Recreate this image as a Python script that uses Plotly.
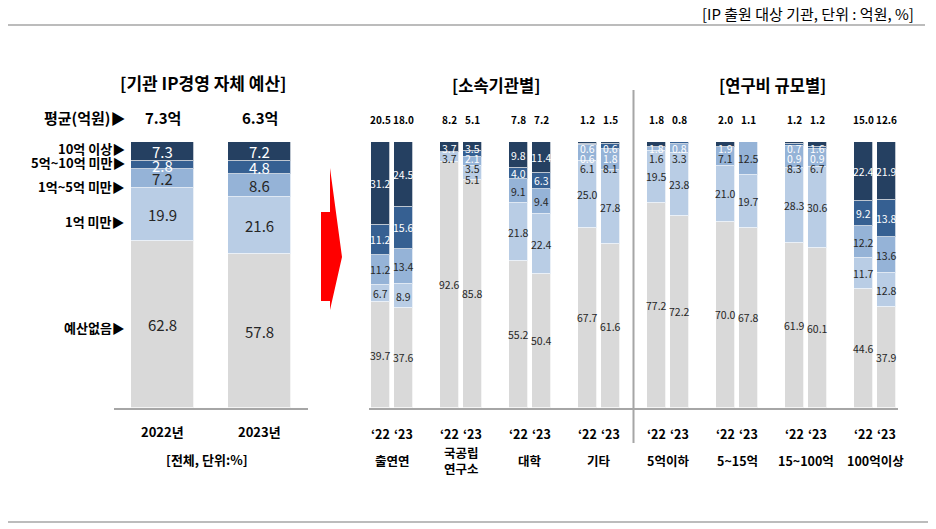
import plotly.graph_objects as go

W, H = 936, 529
def px(x): return x / W
def py(y): return 1 - y / H

FONT = "Noto Sans CJK KR"

# ---------------- data ----------------
series_names = ["예산없음", "1억 미만", "1억~5억 미만", "5억~10억 미만", "10억 이상"]
colors = ["#d9d9d9", "#b9cde5", "#95b3d7", "#366092", "#254061"]
text_colors = ["#262626", "#262626", "#262626", "#ffffff", "#ffffff"]

# left panel (전체)
total_years = ["2022년", "2023년"]
total_avg = ["7.3억", "6.3억"]
total_none = [62.8, 57.8]
total_lt1 = [19.9, 21.6]
total_1to5 = [7.2, 8.6]
total_5to10 = [2.8, 4.8]
total_ge10 = [7.3, 7.2]
total_series = [total_none, total_lt1, total_1to5, total_5to10, total_ge10]

# middle / right panels
group_names = ["출연연", "국공립<br>연구소", "대학", "기타",
               "5억이하", "5~15억", "15~100억", "100억이상"]
year_ticks = ["‘22", "‘23"]
grp_none = [39.7, 37.6, 92.6, 85.8, 55.2, 50.4, 67.7, 61.6,
            77.2, 72.2, 70.0, 67.8, 61.9, 60.1, 44.6, 37.9]
grp_lt1 = [6.7, 8.9, 3.7, 5.1, 21.8, 22.4, 25.0, 27.8,
           19.5, 23.8, 21.0, 19.7, 28.3, 30.6, 11.7, 12.8]
grp_1to5 = [11.2, 13.4, 0, 3.5, 9.1, 9.4, 6.1, 8.1,
            1.6, 3.3, 7.1, 12.5, 8.3, 6.7, 12.2, 13.6]
grp_5to10 = [11.2, 15.6, 0, 2.1, 4.0, 6.3, 0.6, 1.8,
             0, 0.8, 0, 0, 0.9, 0.9, 9.2, 13.8]
grp_ge10 = [31.2, 24.5, 3.7, 3.5, 9.8, 11.4, 0.6, 0.6,
            1.8, 0, 1.9, 0, 0.7, 1.6, 22.4, 21.9]
grp_series = [grp_none, grp_lt1, grp_1to5, grp_5to10, grp_ge10]
grp_avg = [20.5, 18.0, 8.2, 5.1, 7.8, 7.2, 1.2, 1.5,
           1.8, 0.8, 2.0, 1.1, 1.2, 1.2, 15.0, 12.6]

# ---------------- figure ----------------
fig = go.Figure()

left_x = list(range(len(total_years)))
for name, vals, col in zip(series_names, total_series, colors):
    fig.add_trace(go.Bar(
        x=left_x, y=vals, name=name, marker_color=col,
        marker_line=dict(color="rgba(255,255,255,0.7)", width=1),
        width=0.64, xaxis="x", yaxis="y",
        showlegend=False, hoverinfo="skip"))

grp_x = [3 * g + j for g in range(len(group_names)) for j in range(2)]
for name, vals, col in zip(series_names, grp_series, colors):
    fig.add_trace(go.Bar(
        x=grp_x, y=vals, name=name, marker_color=col,
        marker_line=dict(color="rgba(255,255,255,0.7)", width=1),
        width=0.83, xaxis="x2", yaxis="y2",
        showlegend=False, hoverinfo="skip"))

ydom = [py(408), py(142)]
axis_line = dict(showline=True, linecolor="#a6a6a6", linewidth=1.5,
                 showgrid=False, zeroline=False, showticklabels=False, ticks="")
fig.update_layout(
    width=W, height=H, margin=dict(l=0, r=0, t=0, b=0),
    paper_bgcolor="white", plot_bgcolor="white",
    barmode="stack", bargap=0,
    font=dict(family=FONT, color="#000000"),
    xaxis=dict(domain=[px(114), px(308)], range=[-0.5, 1.5], anchor="y", **axis_line),
    yaxis=dict(domain=ydom, range=[0, 100], visible=False, anchor="x"),
    xaxis2=dict(domain=[px(369), px(898)], range=[-0.5, 22.5], anchor="y2", **axis_line),
    yaxis2=dict(domain=ydom, range=[0, 100], visible=False, anchor="x2"),
)

ann = []
def A(text, x, y, xref="paper", size=12, bold=True, xanchor="center", color="#000000"):
    ann.append(dict(text=f"<b>{text}</b>" if bold else text, x=x, y=y, xref=xref,
                    yref="paper", showarrow=False, xanchor=xanchor, yanchor="middle",
                    font=dict(family=FONT, size=size, color=color)))

# value labels inside the stacked segments (placed from the top down so that
# labels of very thin segments do not sit on top of each other)
def seg_labels(xs, series, xref, yref, size, gap, top_pad):
    for b, xv in enumerate(xs):
        cum = 0
        segs = []
        for s, vals in enumerate(series):
            v = vals[b]
            segs.append((cum + v / 2, v, s))
            cum += v
        limit = 100 - top_pad
        for c, v, s in reversed(segs):
            if v <= 0:
                continue
            pos = min(c, limit)
            limit = pos - gap
            ann.append(dict(text=f"{v:.1f}", x=xv, y=pos, xref=xref, yref=yref,
                            showarrow=False, xanchor="center", yanchor="middle",
                            font=dict(family=FONT, size=size, color=text_colors[s])))

seg_labels(left_x, total_series, "x", "y", 15, 4.0, 3.0)
seg_labels(grp_x, grp_series, "x2", "y2", 10.5, 3.9, 2.3)

# header
A("[IP 출원 대상 기관, 단위 : 억원, %]", px(916), py(13), size=15, bold=False, xanchor="right")

# left panel texts
A("[기관 IP경영 자체 예산]", px(203), py(83), size=17)
A("평균(억원)▶", px(128), py(117), size=15, xanchor="right")
for i, t in enumerate(total_avg):
    A(t, left_x[i], py(117), xref="x", size=15)
row_label_y = [327, 221, 186, 162, 148]
for name, yy in zip(series_names, row_label_y):
    A(f"{name}▶", px(127), py(yy), size=13, xanchor="right")
for i, t in enumerate(total_years):
    A(t, left_x[i], py(431), xref="x", size=13)
A("[전체, 단위:%]", px(207), py(459), size=13)

# middle / right panel texts
A("[소속기관별]", px(496), py(85), size=16.5)
A("[연구비 규모별]", px(772), py(85), size=16.5)
for xv, v in zip(grp_x, grp_avg):
    A(f"{v:.1f}", xv, py(120), xref="x2", size=10)
for k, xv in enumerate(grp_x):
    A(year_ticks[k % 2], xv, py(433), xref="x2", size=12.5)
for g, name in enumerate(group_names):
    A(name, 3 * g + 0.5, py(460), xref="x2", size=12.5)

fig.update_layout(annotations=ann)

# shapes
shapes = [
    dict(type="line", xref="paper", yref="paper", x0=px(8), x1=px(925),
         y0=py(25), y1=py(25), line=dict(color="#a6a6a6", width=1.5)),
    dict(type="line", xref="paper", yref="paper", x0=px(8), x1=px(928),
         y0=py(522), y1=py(522), line=dict(color="#a6a6a6", width=1.5)),
    dict(type="line", xref="x2", yref="paper", x0=11, x1=11,
         y0=py(90), y1=py(443), line=dict(color="#a6a6a6", width=2)),
    dict(type="path", xref="paper", yref="paper",
         path=(f"M {px(330)},{py(168)} L {px(342)},{py(257)} L {px(330)},{py(310)} "
               f"L {px(330)},{py(301)} L {px(321)},{py(301)} L {px(321)},{py(212)} "
               f"L {px(330)},{py(212)} Z"),
         fillcolor="#ff0000", line=dict(width=0)),
]
fig.update_layout(shapes=shapes)

fig.write_html("out.html", config={"displayModeBar": False},
               post_script="document.body.style.margin='0';document.body.style.overflow='hidden';")
